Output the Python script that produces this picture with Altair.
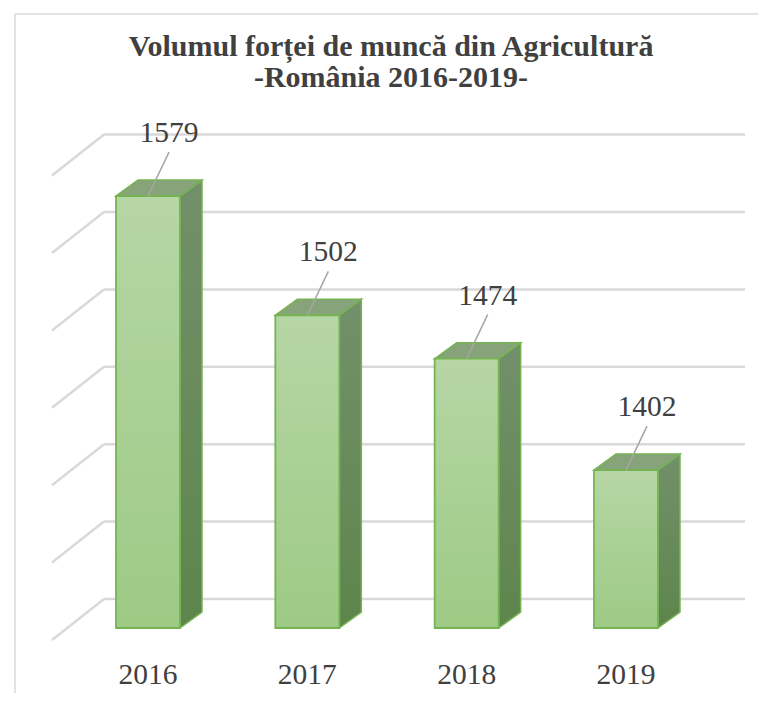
import altair as alt
import pandas as pd

# ---- data ----
years = ["2016", "2017", "2018", "2019"]
values = [1579, 1502, 1474, 1402]
grid_values = [1300, 1350, 1400, 1450, 1500, 1550, 1600]
base_value = 1300
title_lines = ["Volumul forței de muncă din Agricultură", "-România 2016-2019-"]

# ---- layout constants (pixels) ----
W, H = 750, 585
PAD_TOP = 100
PX_X = 159.33          # px per category step
PX_Y = 1.548           # px per value unit
X0_PX = 140            # plot x of first category centre
BASE_PX = 520          # plot y of base value on front plane

x_dom = [-X0_PX / PX_X, (W - X0_PX) / PX_X]
y_dom = [base_value - (H - BASE_PX) / PX_Y, base_value + BASE_PX / PX_Y]

HALF = 32 / PX_X        # half bar width (idx units)
DX = 22 / PX_X          # bar depth, x
DY = 16 / PX_Y          # bar depth, y
WALL_DY = 29 / PX_Y     # back wall offset
WALL_L = -44 / PX_X     # back wall left edge (idx)
WALL_R = 597 / PX_X     # back wall right edge (idx)
SIDE_L = -96 / PX_X     # side wall front edge (idx)
SIDE_DY = 41 / PX_Y     # side wall drop

xs = alt.Scale(domain=x_dom, nice=False, zero=False)
ys = alt.Scale(domain=y_dom, nice=False, zero=False)

def X(f="x"):
    return alt.X(f"{f}:Q", scale=xs, axis=None)

def Y(f="y"):
    return alt.Y(f"{f}:Q", scale=ys, axis=None)

# ---- tables built from the arrays ----
grid = pd.DataFrame({
    "x": [WALL_L] * len(grid_values),
    "x2": [WALL_R] * len(grid_values),
    "y": [g + WALL_DY for g in grid_values],
})
diag = pd.DataFrame({
    "x": [WALL_L] * len(grid_values),
    "x2": [SIDE_L] * len(grid_values),
    "y": [g + WALL_DY for g in grid_values],
    "y2": [g + WALL_DY - SIDE_DY for g in grid_values],
})

front = pd.DataFrame({
    "year": years,
    "x": [i - HALF for i in range(len(years))],
    "x2": [i + HALF for i in range(len(years))],
    "y": [base_value] * len(years),
    "y2": values,
})

side_rows, top_rows = [], []
for i, (yr, v) in enumerate(zip(years, values)):
    xr, xl = i + HALF, i - HALF
    side_rows += [
        {"year": yr, "x": xr, "y": base_value, "y2": v},
        {"year": yr, "x": xr + DX, "y": base_value + DY, "y2": v + DY},
    ]
    top_rows += [
        {"year": yr, "x": xl, "y": v, "y2": v},
        {"year": yr, "x": xl + DX, "y": v, "y2": v + DY},
        {"year": yr, "x": xr, "y": v, "y2": v + DY},
        {"year": yr, "x": xr + DX, "y": v + DY, "y2": v + DY},
    ]
side = pd.DataFrame(side_rows)
top = pd.DataFrame(top_rows)

LBL_DX = 21 / PX_X
LBL_DY = 63 / PX_Y
LEAD_DY = 44 / PX_Y
labels = pd.DataFrame({
    "year": years,
    "x": [i for i in range(len(years))],
    "xl": [i + LBL_DX for i in range(len(years))],
    "y": values,
    "yl": [v + LBL_DY for v in values],
    "ylead": [v + LEAD_DY for v in values],
    "label": [str(v) for v in values],
})
cats = pd.DataFrame({"x": list(range(len(years))), "year": years})
title_df = pd.DataFrame({"t": ["\n".join(title_lines)]})

EDGE = "#76b451"
TXT = "#404040"
SERIF = "Liberation Serif"

# ---- layers ----
border = pd.DataFrame({"bx": [7, 7], "bx2": [W + 20, 7], "by": [-94, -94], "by2": [-94, H + 20]})
border_l = alt.Chart(border).mark_rule(color="#d9d9d9", strokeWidth=1.5).encode(
    x=alt.X("bx:Q", scale=None, axis=None), x2="bx2:Q",
    y=alt.Y("by:Q", scale=None, axis=None), y2="by2:Q",
)
title_l = alt.Chart(title_df).mark_text(
    font=SERIF, fontSize=30, fontWeight="bold", color=TXT,
    lineBreak="\n", lineHeight=31, align="center", baseline="middle",
).encode(x=alt.value(383), y=alt.value(-61), text="t:N")

grid_l = alt.Chart(grid).mark_rule(color="#d9d9d9", strokeWidth=2.5).encode(
    x=X(), x2="x2:Q", y=Y()
)
diag_l = alt.Chart(diag).mark_rule(color="#d9d9d9", strokeWidth=2.5).encode(
    x=X(), x2="x2:Q", y=Y(), y2="y2:Q"
)

side_l = alt.Chart(side).mark_area(
    color=alt.Gradient(
        gradient="linear", x1=0, y1=0, x2=0, y2=1,
        stops=[alt.GradientStop(color="#72906a", offset=0),
               alt.GradientStop(color="#5e854d", offset=1)],
    ),
    stroke=EDGE, strokeWidth=1.5, opacity=1,
).encode(x=X(), y=Y(), y2="y2:Q", detail="year:N")

top_l = alt.Chart(top).mark_area(
    color="#87a37a", stroke=EDGE, strokeWidth=1.5, opacity=1
).encode(x=X(), y=Y(), y2="y2:Q", detail="year:N")

front_l = alt.Chart(front).mark_bar(
    color=alt.Gradient(
        gradient="linear", x1=0, y1=0, x2=0, y2=1,
        stops=[alt.GradientStop(color="#b6d6a5", offset=0),
               alt.GradientStop(color="#9dca85", offset=1)],
    ),
    stroke=EDGE, strokeWidth=1.8,
).encode(x=X(), x2="x2:Q", y=Y(), y2="y2:Q")

lead_l = alt.Chart(labels).mark_rule(color="#a6a6a6", strokeWidth=1.5).encode(
    x=X(), x2="xl:Q", y=Y(), y2="ylead:Q"
)
val_l = alt.Chart(labels).mark_text(
    font=SERIF, fontSize=29.5, color=TXT, baseline="middle", align="center"
).encode(x=X("xl"), y=Y("yl"), text="label:N")

cat_l = alt.Chart(cats).mark_text(
    font=SERIF, fontSize=29.5, color=TXT, baseline="middle", align="center"
).encode(x=X(), y=alt.value(567), text="year:N")

chart = alt.layer(
    border_l, title_l, grid_l, diag_l,
    side_l, top_l, front_l, lead_l, val_l, cat_l,
).resolve_scale(x="independent", y="independent").properties(
    width=W, height=H,
    autosize=alt.AutoSizeParams(type="none"),
    padding={"left": 0, "top": PAD_TOP, "right": 0, "bottom": 0},
    view=alt.ViewBackground(strokeOpacity=0, strokeWidth=0),
).configure_view(strokeOpacity=0, strokeWidth=0).configure(background="white")

chart.save("out.html", embed_options={"renderer": "svg", "actions": False})
